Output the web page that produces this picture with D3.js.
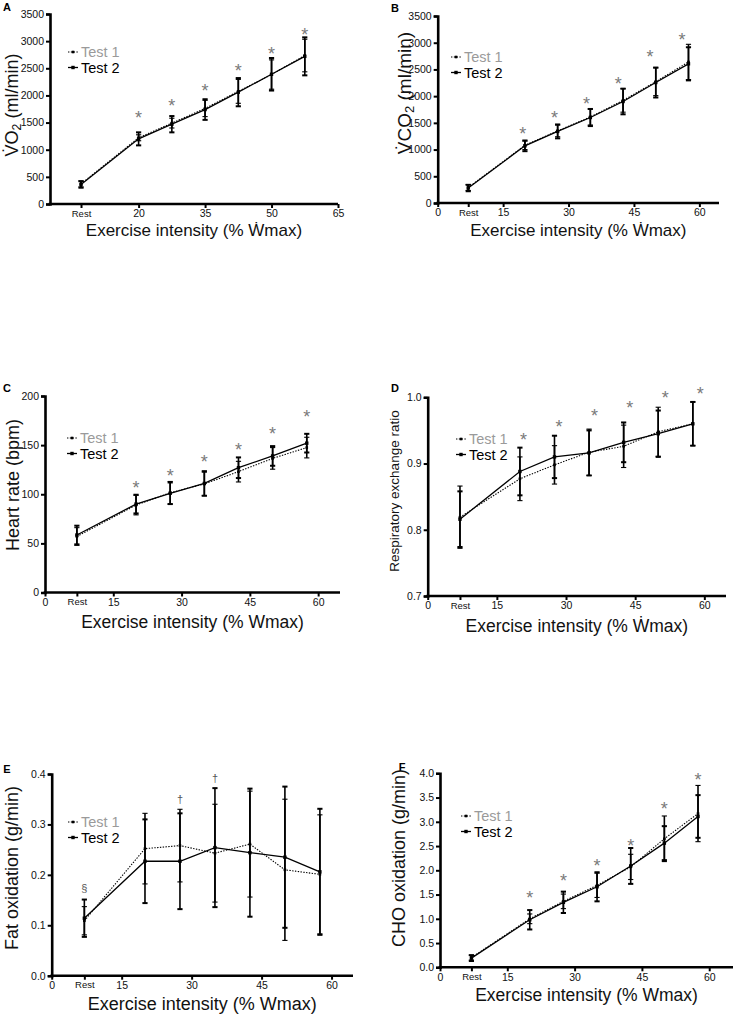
<!DOCTYPE html>
<html><head><meta charset="utf-8">
<script src="https://cdn.jsdelivr.net/npm/d3@7"></script>
<style>
body{margin:0;background:#fff}
svg{display:block}
text{font-family:"Liberation Sans",Arial,Helvetica,sans-serif}
</style>
</head><body>
<svg id="chart" width="733" height="1015"></svg>
<script>
// ---------- DATA ----------
const xLevels = [7, 20, 27.5, 35, 42.5, 50, 57.5];          // Rest, then % Wmax stages
const xTicksA = [7, 20, 35, 50, 65];
const xTickLabelsA = ["Rest", "20", "35", "50", "65"];
const xTicksB = [0, 7, 15, 30, 45, 60];
const xTickLabelsB = ["0", "Rest", "15", "30", "45", "60"];

const vo2Test1 = [370, 1220, 1490, 1760, 2075, 2385, 2735];
const vo2Test2 = [360, 1200, 1470, 1740, 2060, 2390, 2720];
const vo2Sd1 = [55, 55, 90, 150, 220, 270, 300];
const vo2Sd2 = [60, 120, 150, 190, 260, 300, 350];
const vo2SigX = [20, 27.5, 35, 42.5, 50, 57.5];
const vo2SigY = [1670, 1885, 2173, 2529, 2848, 3192];

const vco2Test1 = [290, 1080, 1350, 1610, 1920, 2270, 2640];
const vco2Test2 = [280, 1070, 1340, 1600, 1900, 2255, 2605];
const vco2Sd1 = [55, 80, 110, 150, 220, 260, 330];
const vco2Sd2 = [60, 100, 130, 160, 240, 280, 310];
const vco2SigX = [19.5, 26.8, 34.1, 41.4, 48.7, 56];
const vco2SigY = [1381, 1675, 1930, 2316, 2814, 3126];

const hrTest1 = [57, 89, 101.5, 110.5, 123, 136.5, 147.5];
const hrTest2 = [58.5, 90, 101, 111, 127, 139, 152];
const hrSd1 = [9, 10, 11.5, 12, 10.5, 11, 10.5];
const hrSd2 = [9.5, 9.5, 11, 12.5, 10.5, 10, 9.5];
const hrSigX = [20, 27.5, 35, 42.5, 50, 57.5];
const hrSigY = [110.5, 123, 137.5, 150, 166, 183];

const rerTest1 = [0.819, 0.877, 0.898, 0.917, 0.926, 0.948, 0.960];
const rerTest2 = [0.816, 0.888, 0.910, 0.916, 0.932, 0.945, 0.960];
const rerSd1 = [0.047, 0.033, 0.029, 0.035, 0.032, 0.037, 0.033];
const rerSd2 = [0.042, 0.036, 0.032, 0.034, 0.030, 0.035, 0.033];
const rerSigX = [20.8, 28.5, 36.2, 43.8, 51.5, 59.1];
const rerSigY = [0.942, 0.962, 0.978, 0.991, 1.005, 1.012];

const fatTest1 = [0.109, 0.252, 0.258, 0.243, 0.261, 0.210, 0.201];
const fatTest2 = [0.114, 0.227, 0.227, 0.254, 0.244, 0.235, 0.206];
const fatSd1 = [0.028, 0.070, 0.072, 0.097, 0.105, 0.140, 0.118];
const fatSd2 = [0.037, 0.083, 0.095, 0.118, 0.127, 0.140, 0.125];
const fatSigX = [7, 27.5, 35];
const fatSigY = [0.173, 0.350, 0.393];
const fatSigSymbols = ["§", "†", "†"];

const choTest1 = [0.20, 1.00, 1.36, 1.69, 2.07, 2.65, 3.17];
const choTest2 = [0.19, 0.98, 1.34, 1.66, 2.09, 2.56, 3.11];
const choSd1 = [0.05, 0.10, 0.15, 0.25, 0.26, 0.47, 0.58];
const choSd2 = [0.06, 0.20, 0.22, 0.30, 0.37, 0.35, 0.44];
const choSigX = [20, 27.5, 35, 42.5, 50, 57.5];
const choSigY = [1.526, 1.869, 2.19, 2.59, 3.35, 3.945];

const legendLabels = ["Test 1", "Test 2"];
const xTitleDot = "Exercise intensity (% W\u0307max)";
const xTitlePlain = "Exercise intensity (% Wmax)";

// ---------- LAYOUT ----------
const panels = [
  {letter:"A", lx:7, ly:7, x0:50, x1:338, xMax:65, yB:204, yT:14, yDom:[0,3500], yTicks:d3.range(0,3501,500), yFmt:d3.format("d"),
   xt:xTicksA, xtl:xTickLabelsA, t1:vo2Test1, t2:vo2Test2, s1:vo2Sd1, s2:vo2Sd2, sigX:vo2SigX, sigY:vo2SigY,
   ylab:[["V\u0307O",false],["2",true],[" (ml/min)",false]], ylx:12, yly:105, ylSize:18, xTitle:xTitleDot, xTitleY:230, xtSize:17,
   leg:{x:68, y:52}},
  {letter:"B", lx:395, ly:8, x0:437.7, x1:719, xMax:64.5, yB:203, yT:16, yDom:[0,3500], yTicks:d3.range(0,3501,500), yFmt:d3.format("d"),
   xt:xTicksB, xtl:xTickLabelsB, t1:vco2Test1, t2:vco2Test2, s1:vco2Sd1, s2:vco2Sd2, sigX:vco2SigX, sigY:vco2SigY,
   ylab:[["V\u0307CO",false],["2",true],[" (ml/min)",false]], ylx:404, yly:93, ylSize:19, xTitle:xTitleDot, xTitleY:230, xtSize:17,
   leg:{x:451, y:57}},
  {letter:"C", lx:7, ly:388, x0:45, x1:340, xMax:64.8, yB:592.5, yT:396, yDom:[0,200], yTicks:[0,50,100,150,200], yFmt:d3.format("d"),
   xt:xTicksB, xtl:xTickLabelsB, t1:hrTest1, t2:hrTest2, s1:hrSd1, s2:hrSd2, sigX:hrSigX, sigY:hrSigY,
   ylab:[["Heart rate (bpm)",false]], ylx:13, yly:485, ylSize:18, xTitle:xTitlePlain, xTitleY:622, xtSize:17.5,
   leg:{x:67, y:438}},
  {letter:"D", lx:395, ly:388, x0:427.7, x1:726, xMax:64.7, yB:596, yT:397.3, yDom:[0.7,1.0], yTicks:[0.7,0.8,0.9,1.0], yFmt:d3.format(".1f"),
   xt:xTicksB, xtl:xTickLabelsB, t1:rerTest1, t2:rerTest2, s1:rerSd1, s2:rerSd2, sigX:rerSigX, sigY:rerSigY,
   ylab:[["Respiratory exchange ratio",false]], ylx:394, yly:491, ylSize:13.5, xTitle:xTitleDot, xTitleY:626, xtSize:17.5,
   leg:{x:456, y:439}},
  {letter:"E", lx:7, ly:769, x0:51.7, x1:353, xMax:64.6, yB:975.7, yT:774, yDom:[0,0.4], yTicks:[0,0.1,0.2,0.3,0.4], yFmt:d3.format(".1f"),
   xt:xTicksB, xtl:xTickLabelsB, t1:fatTest1, t2:fatTest2, s1:fatSd1, s2:fatSd2, sigX:fatSigX, sigY:fatSigY, sigSym:fatSigSymbols,
   ylab:[["Fat oxidation (g/min)",false]], ylx:12, yly:868, ylSize:18, xTitle:xTitlePlain, xTitleY:1004, xtSize:18,
   leg:{x:68, y:822}},
  {letter:"F", lx:402, ly:767, x0:440, x1:733, xMax:65.3, yB:967.3, yT:773.3, yDom:[0,4], yTicks:d3.range(0,4.01,0.5), yFmt:d3.format(".1f"),
   xt:xTicksB, xtl:xTickLabelsB, t1:choTest1, t2:choTest2, s1:choSd1, s2:choSd2, sigX:choSigX, sigY:choSigY,
   ylab:[["CHO oxidation (g/min)",false]], ylx:399, yly:858, ylSize:18, xTitle:xTitlePlain, xTitleY:995, xtSize:17.5,
   leg:{x:461, y:816}}
];

const svg = d3.select("#chart");
svg.append("rect").attr("width",733).attr("height",1015).attr("fill","#fff");

panels.forEach(p => {
  const g = svg.append("g");
  const x = d3.scaleLinear().domain([0, p.xMax]).range([p.x0, p.x1]);
  const y = d3.scaleLinear().domain(p.yDom).range([p.yB, p.yT]);

  g.append("text").attr("x", p.lx).attr("y", p.ly).attr("text-anchor","middle").attr("dominant-baseline","central")
    .attr("font-size", 11).attr("font-weight","bold").text(p.letter);

  const yAx = g.append("g").attr("transform", `translate(${p.x0},0)`)
    .call(d3.axisLeft(y).tickValues(p.yTicks).tickFormat(p.yFmt).tickSizeOuter(0).tickSize(4).tickPadding(2));
  const xAx = g.append("g").attr("transform", `translate(0,${p.yB})`)
    .call(d3.axisBottom(x).tickValues(p.xt).tickFormat((d,i)=>p.xtl[i]).tickSizeOuter(0).tickSize(4).tickPadding(2));
  [yAx, xAx].forEach(a => {
    a.select(".domain").attr("stroke","#000").attr("stroke-width",2.6);
    a.selectAll(".tick line").attr("stroke","#000").attr("stroke-width",2);
    a.selectAll(".tick text").attr("fill","#111").attr("font-size",10.5)
      .attr("font-family","'Liberation Sans',Arial,sans-serif");
  });
  xAx.selectAll(".tick text").attr("font-size", (d,i)=> p.xtl[i]==="Rest" ? 9.5 : 10.5);
  xAx.select(".domain").attr("d", `M${p.x0-1.3},0H${p.x1}`);

  const yl = g.append("text").attr("transform", `translate(${p.ylx},${p.yly}) rotate(-90)`)
    .attr("text-anchor","middle").attr("dominant-baseline","central").attr("font-size", p.ylSize).attr("fill","#111");
  p.ylab.forEach(([t, sub]) => {
    const ts = yl.append("tspan").text(t);
    if (sub) ts.attr("font-size", p.ylSize*0.68).attr("dy", p.ylSize*0.28);
    else if (yl.selectAll("tspan").size() > 1) ts.attr("dy", -p.ylSize*0.28);
  });

  g.append("text").attr("x", (p.x0+p.x1)/2).attr("y", p.xTitleY).attr("text-anchor","middle")
    .attr("dominant-baseline","central").attr("font-size", p.xtSize).attr("fill","#111").text(p.xTitle);

  const series = [
    {vals:p.t1, sd:p.s1, dash:"1.4,1.4", lw:1.1, capW:1.1, mk:2.6},
    {vals:p.t2, sd:p.s2, dash:null, lw:1.3, capW:2, mk:3.4}
  ];

  series.forEach(s => {
    const eb = g.append("g");
    xLevels.forEach((xv, i) => {
      const cx = x(xv), top = y(s.vals[i] + s.sd[i]), bot = y(s.vals[i] - s.sd[i]);
      eb.append("line").attr("x1",cx).attr("x2",cx).attr("y1",top).attr("y2",bot).attr("stroke","#000").attr("stroke-width",1.6);
      [top, bot].forEach(yy => eb.append("line").attr("x1",cx-2.6).attr("x2",cx+2.6).attr("y1",yy).attr("y2",yy)
        .attr("stroke","#000").attr("stroke-width",s.capW));
    });
  });

  series.forEach(s => {
    const line = d3.line().x((d,i)=>x(xLevels[i])).y(d=>y(d));
    const path = g.append("path").datum(s.vals).attr("d", line).attr("fill","none").attr("stroke","#000").attr("stroke-width", s.lw);
    if (s.dash) path.attr("stroke-dasharray", s.dash);
  });

  series.forEach(s => {
    g.append("g").selectAll("rect").data(s.vals).join("rect")
      .attr("x",(d,i)=>x(xLevels[i])-s.mk/2).attr("y",d=>y(d)-s.mk/2)
      .attr("width",s.mk).attr("height",s.mk).attr("fill","#000");
  });

  g.append("g").selectAll("text").data(p.sigY).join("text")
    .attr("x",(d,i)=>x(p.sigX[i])).attr("y",d=>y(d)+ (p.sigSym ? 0 : 4.5))
    .attr("text-anchor","middle").attr("dominant-baseline","central")
    .attr("font-family", p.sigSym ? "'DejaVu Sans',sans-serif" : "'Liberation Sans',Arial,sans-serif")
    .attr("font-size", p.sigSym ? 11 : 18).attr("fill", p.sigSym ? "#555" : "#7a7a7a")
    .text((d,i)=> p.sigSym ? p.sigSym[i] : "*");

  const lg = g.append("g");
  legendLabels.forEach((lab, i) => {
    const yy = p.leg.y + i*15.5;
    const s = series[i];
    const ln = lg.append("line").attr("x1",p.leg.x).attr("x2",p.leg.x+10).attr("y1",yy).attr("y2",yy)
      .attr("stroke","#000").attr("stroke-width", s.lw);
    if (s.dash) ln.attr("stroke-dasharray", s.dash);
    lg.append("rect").attr("x",p.leg.x+5-s.mk/2).attr("y",yy-s.mk/2).attr("width",s.mk).attr("height",s.mk).attr("fill","#000");
    lg.append("text").attr("x",p.leg.x+13).attr("y",yy).attr("dominant-baseline","central")
      .attr("font-size",14.5).attr("fill", i===0 ? "#9a9a9a" : "#000").text(lab);
  });
});
</script>
</body></html>
